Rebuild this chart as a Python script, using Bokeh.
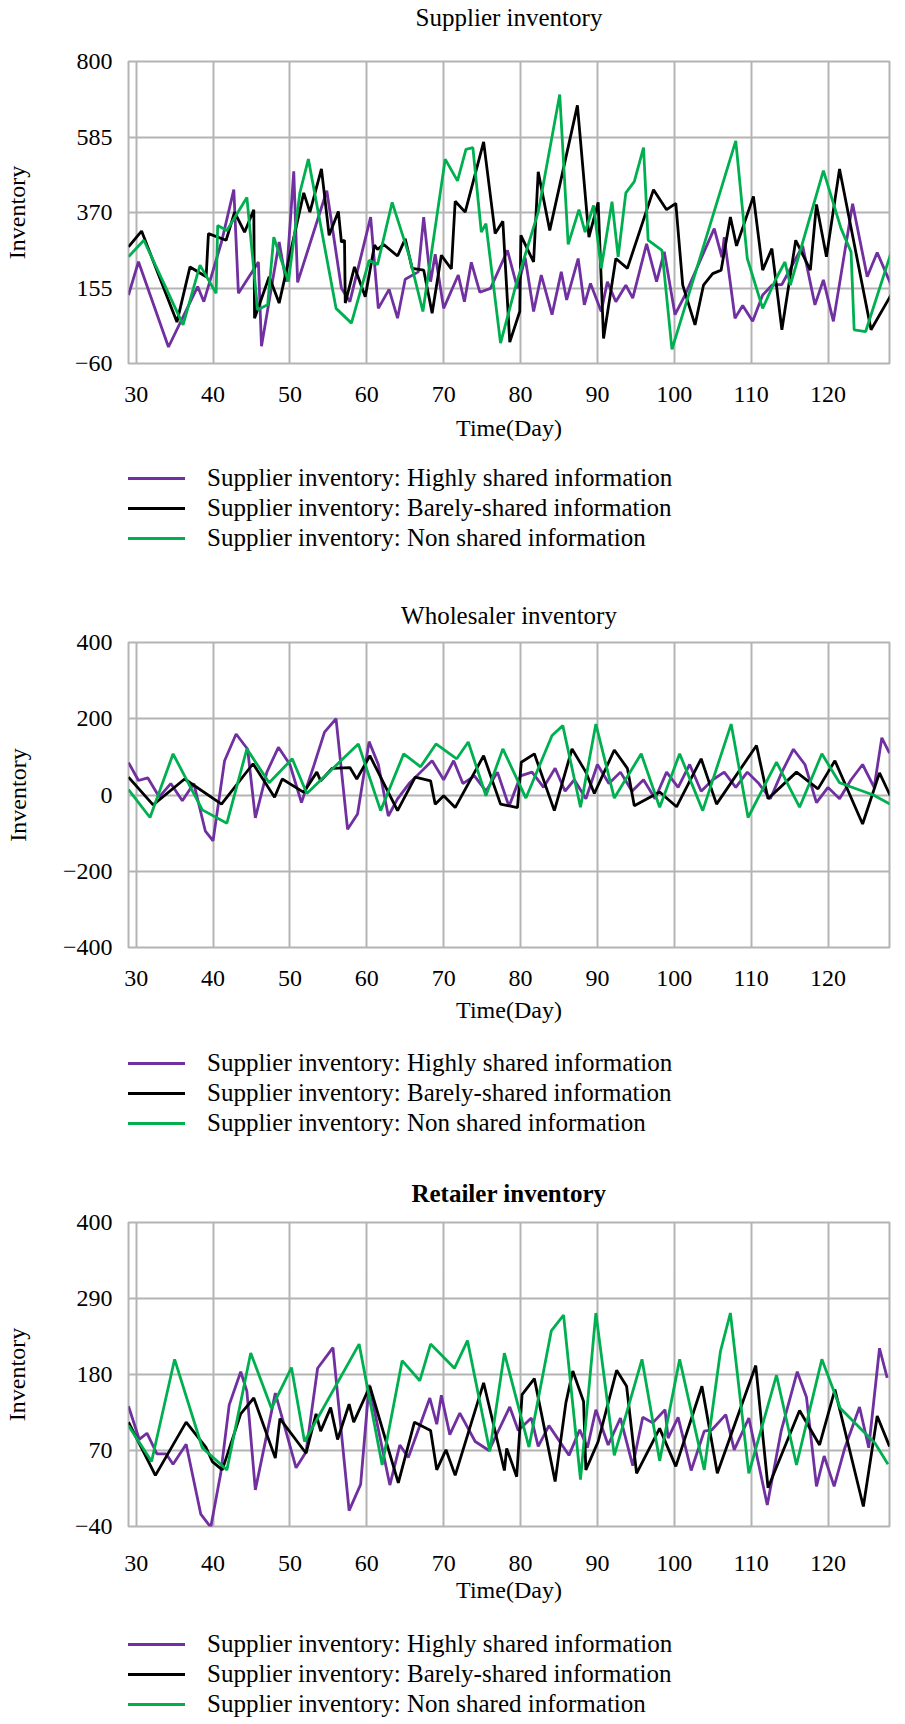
from bokeh.plotting import figure
from bokeh.models import FixedTicker, Legend, LegendItem, Range1d, LinearAxis
from bokeh.layouts import column
from bokeh.embed import file_html
from bokeh.resources import INLINE

FONT = "Liberation Serif"
PURPLE = "#7030A0"
BLACK = "#000000"
GREEN = "#00B050"
GRID = "#b4b4b4"

day_ticks = [30, 40, 50, 60, 70, 80, 90, 100, 110, 120]
legend_labels = [
    "Supplier inventory: Highly shared information",
    "Supplier inventory: Barely-shared information",
    "Supplier inventory: Non shared information",
]

# ---------------- Supplier inventory ----------------
sup_ticks = [-60, 155, 370, 585, 800]
sup_high_day = [29.0, 30.3, 34.2, 38.0, 38.8, 41.1, 42.7, 43.3, 45.9, 46.3, 48.6, 49.5, 50.5, 51.0, 54.8, 56.7, 57.8, 60.5, 61.5, 62.9,
                64.0, 65.0, 66.7, 67.4, 68.3, 68.9, 70.0, 71.9, 72.7, 73.6, 74.7, 76.1, 78.3, 79.6, 80.6, 81.7, 82.7, 84.1, 85.3, 86.0,
                87.5, 88.3, 89.1, 90.5, 91.3, 92.4, 93.7, 94.6, 96.4, 97.7, 98.7, 100.1, 101.4, 105.2, 106.2, 106.5, 107.9, 108.9, 110.2, 111.5,
                112.7, 114.0, 116.7, 118.3, 119.4, 120.7, 123.2, 125.1, 126.4, 128.4]
sup_high_inv = [135, 230, -13, 159, 116, 286, 435, 140, 229, -11, 286, 173, 487, 171, 432, 154, 116, 357, 97, 151,
                69, 180, 201, 357, 173, 251, 97, 192, 116, 228, 143, 154, 262, 154, 241, 88, 192, 79, 201, 121,
                239, 107, 168, 88, 173, 116, 163, 126, 281, 173, 258, 79, 135, 324, 242, 300, 69, 105, 60, 135,
                163, 165, 275, 107, 178, 60, 395, 187, 256, 154]
sup_bare_day = [29.0, 30.7, 35.3, 37.0, 39.1, 39.4, 41.7, 42.8, 44.1, 45.3, 45.4, 47.3, 48.6, 51.8, 52.6, 54.1, 55.1, 56.3, 56.7, 57.1,
                57.2, 58.4, 59.8, 61.0, 61.4, 62.2, 64.0, 65.0, 65.9, 67.4, 68.5, 69.7, 71.0, 71.5, 72.8, 75.2, 76.7, 77.7, 78.6, 79.9,
                80.05, 81.7, 82.3, 83.8, 87.4, 88.9, 90.1, 90.8, 92.4, 93.9, 97.3, 99.0, 100.2, 101.1, 102.7, 103.8, 105.0, 106.1, 107.3, 108.1,
                110.3, 111.5, 112.7, 114.0, 115.8, 117.7, 118.5, 119.8, 121.5, 125.6, 128.4]
sup_bare_inv = [272, 317, 58, 215, 187, 310, 291, 371, 314, 378, 69, 187, 112, 426, 371, 494, 305, 373, 286, 291,
                112, 215, 130, 277, 265, 279, 246, 295, 211, 206, 83, 248, 209, 402, 371, 571, 310, 345, 1, 88,
                305, 229, 486, 319, 675, 300, 399, 11, 239, 211, 435, 378, 396, 163, 50, 163, 196, 206, 357, 275,
                416, 206, 267, 36, 291, 206, 393, 244, 494, 36, 143]
sup_non_day = [29.0, 31.0, 36.1, 38.3, 40.4, 40.6, 41.8, 44.4, 45.8, 47.1, 47.9, 49.8, 51.3, 52.4, 56.0, 58.0, 60.3, 61.4, 63.3, 65.5,
               67.3, 70.2, 71.8, 72.9, 73.8, 74.9, 75.5, 77.4, 79.4, 82.3, 85.1, 86.2, 87.6, 88.4, 89.5, 90.5, 91.9, 92.7, 93.7, 94.8,
               96.0, 96.6, 98.4, 99.7, 108.0, 109.5, 111.5, 113.2, 114.4, 115.1, 119.4, 121.7, 123.0, 123.4, 124.9, 128.4]
sup_non_inv = [244, 291, 50, 220, 140, 333, 319, 413, 93, 107, 300, 173, 427, 522, 97, 55, 234, 222, 399, 248,
               88, 522, 460, 550, 555, 314, 338, -2, 163, 371, 706, 279, 378, 314, 390, 211, 401, 244, 426, 458,
               555, 291, 262, -20, 574, 239, 97, 180, 229, 163, 489, 324, 258, 36, 31, 269]

# ---------------- Wholesaler inventory ----------------
whl_ticks = [-400, -200, 0, 200, 400]
whl_high_day = [29, 30.3, 31.5, 33, 34.5, 36, 37.5, 39, 40, 41.5, 43, 44.5, 45.5, 47, 48.5, 50, 51.5, 53, 54.5, 56,
                57.5, 58.8, 60.3, 61.5, 62.8, 64, 65.5, 67, 68.5, 70, 71.3, 72.5, 74, 75.5, 77, 78.5, 80, 81.5, 83, 84.5,
                85.8, 87, 88.5, 90, 91.5, 93, 94.5, 96, 97.5, 99, 100.5, 102, 103.5, 105, 106.5, 108, 109.5, 111, 112.5, 114,
                115.5, 117, 118.5, 120, 121.5, 123, 124.5, 126, 127, 128]
whl_high_inv = [85, 38, 45, -5, 30, -15, 30, -95, -120, 90, 160, 120, -60, 60, 125, 80, -20, 70, 165, 200,
                -90, -50, 140, 80, -55, -10, 30, 60, 90, 40, 90, 30, 50, 10, 60, -30, 50, 60, 20, 70,
                10, 40, -10, 80, 30, 60, 10, 40, -10, 60, 20, 80, 10, 40, 60, 20, 60, 30, -10, 60,
                120, 80, -20, 20, -10, 40, 80, 20, 150, 110]
whl_bare_day = [29.0, 32.2, 36.3, 41.1, 45.2, 48.0, 49.0, 51.8, 53.5, 54.0, 55.5, 57.8, 58.7, 60.4, 64.0, 66.3, 68.3, 68.9, 70.0, 71.5,
                75.2, 77.4, 79.6, 80.1, 81.8, 84.4, 86.7, 88.5, 89.6, 92.2, 93.9, 94.8, 98.1, 100.3, 103.5, 105.5, 110.7, 112.2, 115.9, 118.7,
                120.9, 124.5, 126.7, 128.1]
whl_bare_inv = [47, -26, 42, -24, 82, -6, 42, 7, 60, 37, 70, 72, 42, 103, -41, 47, 37, -24, -2, -33,
                103, -24, -33, 86, 108, -41, 121, 60, 4, 118, 70, -28, 8, -31, 95, -24, 130, -10, 60, 16,
                90, -76, 58, -2]
whl_non_day = [29.0, 31.8, 34.8, 38.6, 41.8, 44.4, 47.3, 50.3, 52.2, 58.9, 61.8, 64.8, 67.0, 69.0, 71.7, 73.2, 75.5, 77.7, 80.7, 84.1,
               85.5, 87.8, 89.8, 92.2, 95.7, 98.1, 100.7, 103.7, 107.4, 109.6, 113.3, 116.3, 119.2, 121.5, 125.9, 128.1]
whl_non_inv = [14, -59, 108, -39, -74, 121, 32, 95, 4, 134, -41, 108, 74, 134, 95, 139, -2, 121, -8, 156,
               182, -32, 186, -8, 108, -32, 108, -41, 186, -59, 86, -32, 108, 32, 0, -24]

# ---------------- Retailer inventory ----------------
ret_ticks = [-40, 70, 180, 290, 400]
ret_high_day = [29.0, 30.4, 31.4, 32.7, 33.9, 34.8, 36.5, 38.4, 39.7, 41.0, 42.1, 43.6, 44.4, 45.5, 48.1, 50.8, 52.1, 53.6, 55.6, 57.7,
                59.2, 60.3, 63.0, 64.3, 65.4, 68.2, 69.1, 69.7, 70.8, 72.1, 74.1, 75.9, 78.6, 79.7, 81.4, 82.3, 83.7, 86.3, 87.7, 88.7,
                89.8, 91.4, 93.0, 94.6, 95.9, 97.2, 98.8, 99.2, 100.5, 102.2, 103.9, 104.9, 106.7, 107.8, 109.7, 112.1, 113.9, 116.0, 117.2, 118.5,
                119.5, 120.8, 122.2, 124.1, 125.3, 126.7, 127.7]
ret_high_inv = [134, 86, 95, 65, 65, 50, 79, -22, -41, 37, 136, 184, 156, 13, 153, 45, 68, 189, 219, -17,
                21, 165, 20, 78, 60, 146, 108, 150, 93, 124, 83, 70, 133, 99, 117, 76, 106, 63, 100, 74,
                129, 78, 117, 48, 118, 110, 129, 88, 118, 41, 98, 100, 122, 71, 117, -9, 98, 184, 147, 18,
                62, 18, 74, 133, 74, 218, 175]
ret_bare_day = [29.0, 32.5, 36.5, 39.1, 39.9, 41.2, 43.6, 45.3, 48.1, 48.7, 52.1, 53.4, 54.0, 55.3, 56.2, 57.7, 58.3, 60.4, 64.1, 66.2,
                68.3, 69.1, 70.3, 71.5, 75.2, 77.9, 78.2, 79.5, 80.2, 81.8, 84.5, 85.9, 86.8, 88.2, 88.5, 90.1, 92.5, 93.8, 95.1, 98.1,
                100.2, 103.6, 105.6, 110.6, 112.2, 116.3, 118.9, 120.9, 124.6, 126.4, 128.0]
ret_bare_inv = [111, 34, 111, 74, 54, 42, 123, 146, 59, 116, 66, 123, 98, 132, 86, 137, 111, 163, 23, 111,
                99, 42, 71, 34, 168, 41, 73, 32, 151, 174, 25, 139, 185, 141, 42, 83, 186, 163, 37, 102,
                47, 163, 37, 193, 16, 128, 78, 158, -11, 120, 76]
ret_non_day = [29.0, 32.0, 35.0, 38.6, 41.8, 44.9, 47.6, 50.2, 51.9, 59.0, 62.0, 64.6, 66.9, 68.3, 71.4, 73.1, 76.0, 77.9, 81.1, 84.0,
               85.6, 87.8, 89.8, 92.2, 95.8, 98.1, 100.7, 103.9, 106.0, 107.3, 109.7, 113.3, 115.9, 119.2, 121.6, 126.1, 127.8]
ret_non_inv = [106, 54, 202, 74, 42, 211, 131, 190, 83, 224, 49, 200, 171, 224, 189, 229, 69, 211, 75, 243,
               266, 28, 269, 63, 202, 55, 202, 42, 213, 269, 37, 179, 49, 202, 131, 81, 50]


def style_text_axis(ax, size):
    ax.axis_line_color = None
    ax.major_tick_line_color = None
    ax.minor_tick_line_color = None
    ax.major_tick_out = 0
    ax.major_tick_in = 0
    ax.minor_tick_out = 0
    ax.minor_tick_in = 0
    ax.major_label_text_font = FONT
    ax.major_label_text_font_size = size
    ax.major_label_text_color = "black"
    ax.axis_label_text_font = FONT
    ax.axis_label_text_font_size = size
    ax.axis_label_text_font_style = "normal"
    ax.axis_label_text_color = "black"


def make_chart(title, bold, yticks, series, height, top, bottom, title_gap, xlab_standoff, xtitle_standoff, ylab_standoff):
    p = figure(width=895, height=height, x_range=Range1d(29, 128), y_range=Range1d(yticks[0], yticks[-1]),
               output_backend="svg", toolbar_location=None,
               min_border_left=118, min_border_right=6, min_border_top=top, min_border_bottom=bottom)
    p.outline_line_color = GRID
    p.outline_line_width = 2

    xax = p.below[0]
    yax = p.left[0]
    xax.ticker = FixedTicker(ticks=day_ticks)
    yax.ticker = FixedTicker(ticks=yticks)
    style_text_axis(xax, "24px")
    style_text_axis(yax, "24px")
    xax.axis_label = "Time(Day)"
    xax.major_label_standoff = xlab_standoff
    xax.axis_label_standoff = xtitle_standoff
    yax.axis_label = "Inventory"
    yax.major_label_standoff = 16
    yax.axis_label_standoff = ylab_standoff

    # chart title, drawn as the label of a tick-less axis above the plot area
    head = LinearAxis(ticker=FixedTicker(ticks=[]), axis_label=title)
    style_text_axis(head, "25px")
    head.major_label_standoff = 0
    head.axis_label_standoff = title_gap
    head.axis_label_text_font_style = "bold" if bold else "normal"
    p.add_layout(head, "above")

    p.xgrid.grid_line_color = GRID
    p.xgrid.grid_line_width = 2
    p.ygrid.grid_line_color = GRID
    p.ygrid.grid_line_width = 2

    for xs, ys, color in series:
        p.line(xs, ys, line_color=color, line_width=2.8)
    return p


def make_legend(series, height, lift):
    q = figure(width=895, height=height, output_backend="svg", toolbar_location=None,
               x_axis_type=None, y_axis_type=None,
               min_border_left=118, min_border_right=6, min_border_top=0, min_border_bottom=0)
    q.outline_line_color = None
    q.xgrid.visible = False
    q.ygrid.visible = False
    items = []
    for (xs, ys, color), label in zip(series, legend_labels):
        r = q.line(xs, ys, line_color=color, line_width=3, visible=False)
        items.append(LegendItem(label=label, renderers=[r]))
    # the legend starts a little left of the plot-area edge, as in the original
    legend = Legend(items=items, location=(-23, lift), orientation="vertical",
                    label_text_font=FONT, label_text_font_size="25px", label_text_color="black",
                    glyph_width=80, glyph_height=26, label_height=26, label_standoff=22, spacing=2,
                    padding=0, margin=0, border_line_color=None, background_fill_alpha=0,
                    inactive_fill_alpha=0)
    q.add_layout(legend, "center")
    return q


sup_series = [(sup_high_day, sup_high_inv, PURPLE), (sup_bare_day, sup_bare_inv, BLACK), (sup_non_day, sup_non_inv, GREEN)]
whl_series = [(whl_high_day, whl_high_inv, PURPLE), (whl_bare_day, whl_bare_inv, BLACK), (whl_non_day, whl_non_inv, GREEN)]
ret_series = [(ret_high_day, ret_high_inv, PURPLE), (ret_bare_day, ret_bare_inv, BLACK), (ret_non_day, ret_non_inv, GREEN)]

p1 = make_chart("Supplier inventory", False, sup_ticks, sup_series, 454, 59, 91, 31, 23, 10, 42)
l1 = make_legend(sup_series, 135, 37)
p2 = make_chart("Wholesaler inventory", False, whl_ticks, whl_series, 450, 53, 92, 14, 23, 8, 29)
l2 = make_legend(whl_series, 130, 32)
p3 = make_chart("Retailer inventory", True, ret_ticks, ret_series, 447, 53, 90, 16, 29, 3, 42)
l3 = make_legend(ret_series, 102, 0)

layout = column(p1, l1, p2, l2, p3, l3, spacing=0)
open("out.html", "w").write(file_html(layout, INLINE))
